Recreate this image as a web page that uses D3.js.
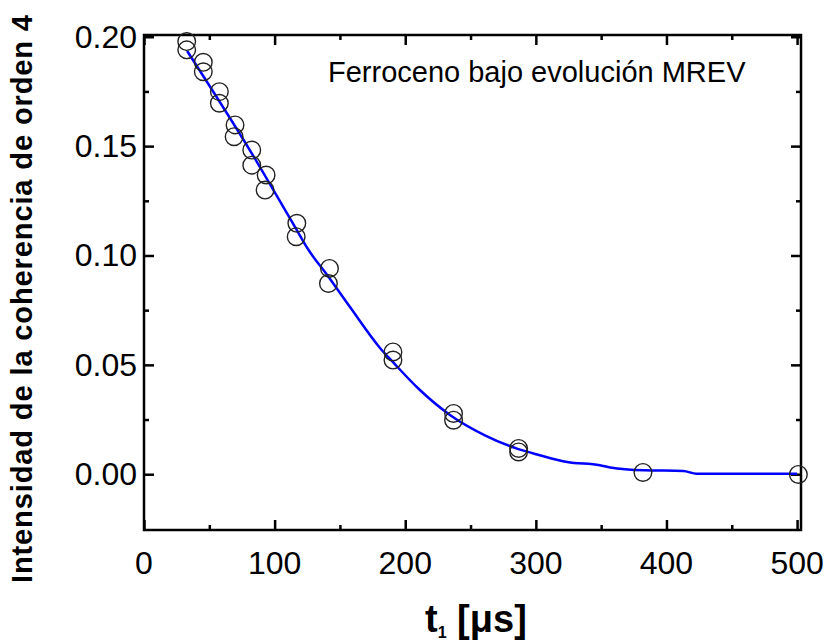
<!DOCTYPE html>
<html>
<head>
<meta charset="utf-8">
<script src="https://cdn.jsdelivr.net/npm/d3@7"></script>
<style>
  body { margin: 0; background: #fff; }
  svg { font-family: "Liberation Sans", Arial, sans-serif; }
</style>
</head>
<body>
<svg id="chart" width="831" height="641"></svg>
<script>
// measured points (two repetitions per t1)
var t1 = [32.7, 32.7, 45.4, 45.4, 57.7, 57.7, 69.7, 69.0, 82.5, 82.5, 93.5, 92.7,
  117, 116.5, 142, 141.2, 190.6, 190.6, 237, 237, 286.8, 286.8, 382, 501]
var intensity = [0.1978, 0.1940, 0.1883, 0.1840, 0.1749, 0.1696, 0.1597, 0.1543,
  0.1482, 0.1413, 0.1368, 0.1299, 0.1147, 0.1086, 0.0941, 0.0872, 0.0559, 0.0522,
  0.0278, 0.0247, 0.0118, 0.0102, 0.0008, -0.0001]

// fitted curve
var fitT = [33, 82.5, 117, 126, 141.2, 158, 181, 191, 210, 234.5, 261, 285,
  303, 324, 349, 357, 383, 413, 423, 500]
var fitI = [0.1935, 0.1467, 0.1116, 0.1025, 0.0903, 0.0762, 0.0575, 0.0510,
  0.0392, 0.0270, 0.0178, 0.0118, 0.0087, 0.0056, 0.0041, 0.0031, 0.0018, 0.0015,
  0.0002, 0.0002]

var xTicks = [0, 100, 200, 300, 400, 500]
var xMinor = [50, 150, 250, 350, 450]
var yTicks = [0, 0.05, 0.10, 0.15, 0.20]
var yMinor = [0.025, 0.075, 0.125, 0.175]

var svg = d3.select("#chart")
var box = { left: 144, right: 801, top: 35, bottom: 530 }

var x = d3.scaleLinear().domain([0, 503]).range([box.left, box.right])
var y = d3.scaleLinear().domain([-0.0255, 0.2008]).range([box.bottom, box.top])

// ticks pointing inwards on all four sides
function tickAxis(axis, vals, size, pos) {
  return svg.append("g")
    .attr("transform", pos)
    .call(axis.tickValues(vals).tickSizeInner(-size).tickSizeOuter(0).tickFormat(""))
    .call(g => g.select(".domain").remove())
    .call(g => g.selectAll("line").attr("stroke", "#000").attr("stroke-width", 2.5))
}
tickAxis(d3.axisBottom(x), xTicks, 10, "translate(0," + box.bottom + ")")
tickAxis(d3.axisBottom(x), xMinor, 5, "translate(0," + box.bottom + ")")
tickAxis(d3.axisTop(x), xTicks, 10, "translate(0," + box.top + ")")
tickAxis(d3.axisTop(x), xMinor, 5, "translate(0," + box.top + ")")
tickAxis(d3.axisLeft(y), yTicks, 10, "translate(" + box.left + ",0)")
tickAxis(d3.axisLeft(y), yMinor, 5, "translate(" + box.left + ",0)")
tickAxis(d3.axisRight(y), yTicks, 10, "translate(" + box.right + ",0)")
tickAxis(d3.axisRight(y), yMinor, 5, "translate(" + box.right + ",0)")

svg.append("rect")
  .attr("x", box.left).attr("y", box.top)
  .attr("width", box.right - box.left).attr("height", box.bottom - box.top)
  .attr("fill", "none").attr("stroke", "#000").attr("stroke-width", 2.5)

// tick labels
svg.append("g").selectAll("text")
  .data(xTicks).enter().append("text")
  .attr("x", d => x(d)).attr("y", 574)
  .attr("text-anchor", "middle")
  .attr("font-size", 32)
  .text(d => d)

svg.append("g").selectAll("text")
  .data(yTicks).enter().append("text")
  .attr("x", 137).attr("y", d => y(d) + 11)
  .attr("text-anchor", "end")
  .attr("font-size", 32)
  .text(d => d.toFixed(2))

// fit
var line = d3.line()
  .x((d, i) => x(fitT[i]))
  .y(d => y(d))
  .curve(d3.curveMonotoneX)

svg.append("path")
  .datum(fitI)
  .attr("d", line)
  .attr("fill", "none")
  .attr("stroke", "#0000ff")
  .attr("stroke-width", 2.5)

// points
svg.append("g").selectAll("circle")
  .data(intensity).enter().append("circle")
  .attr("cx", (d, i) => x(t1[i]))
  .attr("cy", d => y(d))
  .attr("r", 8.8)
  .attr("fill", "none")
  .attr("stroke", "#222")
  .attr("stroke-width", 1.4)

svg.append("text")
  .attr("x", 328).attr("y", 82)
  .attr("font-size", 29)
  .text("Ferroceno bajo evolución MREV")

// axis titles
svg.append("text")
  .attr("transform", "translate(32,299) rotate(-90)")
  .attr("text-anchor", "middle")
  .attr("font-size", 29)
  .attr("font-weight", "bold")
  .attr("textLength", 568)
  .attr("lengthAdjust", "spacing")
  .text("Intensidad de la coherencia de orden 4")

var xl = svg.append("text")
  .attr("x", 425).attr("y", 632)
  .attr("font-size", 38)
  .attr("font-weight", "bold")
xl.append("tspan").text("t")
xl.append("tspan").attr("font-size", 16).attr("dy", 6).text("1")
xl.append("tspan").attr("dy", -6).text(" [μs]")
</script>
</body>
</html>
